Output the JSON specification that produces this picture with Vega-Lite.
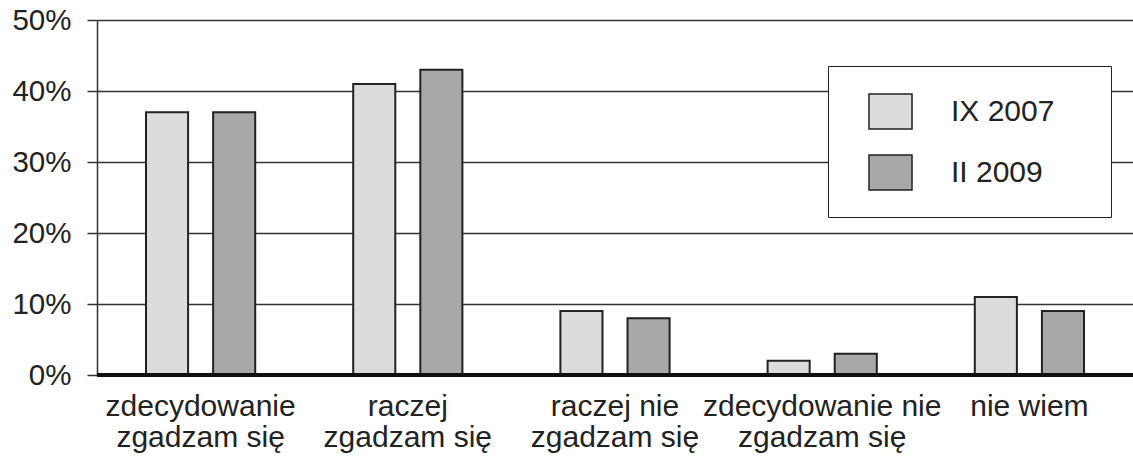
{
  "$schema": "https://vega.github.io/schema/vega-lite/v6.json",
  "width": 1036,
  "height": 355,
  "autosize": {"type": "none"},
  "padding": {"left": 97, "top": 20, "right": 0, "bottom": 82},
  "background": "white",
  "config": {
    "view": {"stroke": null},
    "font": "Liberation Sans",
    "axis": {"labelFont": "Liberation Sans", "labelColor": "#222"}
  },
  "data": {
    "values": [
      {"kategoria": "zdecydowanie|zgadzam się", "okres": "IX 2007", "procent": 37},
      {"kategoria": "zdecydowanie|zgadzam się", "okres": "II 2009", "procent": 37},
      {"kategoria": "raczej|zgadzam się", "okres": "IX 2007", "procent": 41},
      {"kategoria": "raczej|zgadzam się", "okres": "II 2009", "procent": 43},
      {"kategoria": "raczej nie|zgadzam się", "okres": "IX 2007", "procent": 9},
      {"kategoria": "raczej nie|zgadzam się", "okres": "II 2009", "procent": 8},
      {"kategoria": "zdecydowanie nie|zgadzam się", "okres": "IX 2007", "procent": 2},
      {"kategoria": "zdecydowanie nie|zgadzam się", "okres": "II 2009", "procent": 3},
      {"kategoria": "nie wiem", "okres": "IX 2007", "procent": 11},
      {"kategoria": "nie wiem", "okres": "II 2009", "procent": 9}
    ]
  },
  "layer": [
    {
      "mark": {"type": "bar", "stroke": "#222", "strokeWidth": 2},
      "encoding": {
        "x": {
          "field": "kategoria",
          "type": "nominal",
          "sort": null,
          "scale": {"paddingInner": 0, "paddingOuter": 0},
          "axis": {
            "title": null,
            "domain": false,
            "ticks": false,
            "labelAngle": 0,
            "labelFontSize": 30,
            "labelLineHeight": 31,
            "labelPadding": 16,
            "labelLimit": 400,
            "labelBaseline": "top",
            "labelExpr": "split(datum.value, '|')"
          }
        },
        "xOffset": {
          "field": "okres",
          "type": "nominal",
          "sort": ["IX 2007", "II 2009"],
          "scale": {"paddingInner": 0.373, "paddingOuter": 0.73}
        },
        "y": {
          "field": "procent",
          "type": "quantitative",
          "scale": {"domain": [0, 50], "nice": false},
          "axis": {
            "title": null,
            "values": [0, 10, 20, 30, 40, 50],
            "labelExpr": "datum.value + '%'",
            "labelFontSize": 29.5,
            "labelPadding": 16,
            "tickSize": 10,
            "tickColor": "#333",
            "tickWidth": 1.5,
            "domainColor": "#333",
            "domainWidth": 1.5,
            "grid": true,
            "gridColor": "#333",
            "gridWidth": 1.5
          }
        },
        "fill": {
          "field": "okres",
          "type": "nominal",
          "sort": ["IX 2007", "II 2009"],
          "scale": {"domain": ["IX 2007", "II 2009"], "range": ["#dcdcdc", "#a8a8a8"]},
          "legend": {
            "title": null,
            "orient": "none",
            "legendX": 731,
            "legendY": 46,
            "padding": 23,
            "symbolOffset": 17,
            "symbolType": "M-1,-0.814H1V0.814H-1Z",
            "symbolSize": 1849,
            "symbolStrokeColor": "#222",
            "symbolStrokeWidth": 1.5,
            "symbolOpacity": 1,
            "labelFontSize": 30,
            "labelColor": "#222",
            "labelOffset": 38,
            "labelLimit": 300,
            "labelExpr": "datum.label + '\u00a0\u00a0\u00a0\u00a0\u200b'",
            "rowPadding": 17,
            "strokeColor": "#222",
            "fillColor": "white"
          }
        }
      }
    },
    {
      "mark": {"type": "rule", "color": "#111", "strokeWidth": 3.5},
      "encoding": {"y": {"datum": 0}}
    }
  ]
}
